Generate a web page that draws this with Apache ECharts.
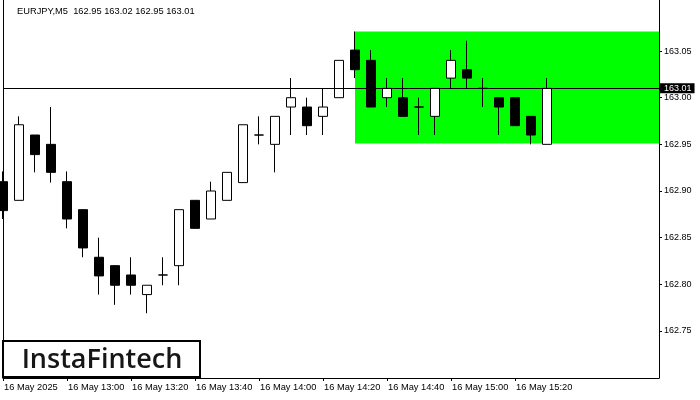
<!DOCTYPE html>
<html>
<head>
<meta charset="utf-8">
<script src="https://cdn.jsdelivr.net/npm/echarts@6/dist/echarts.min.js"></script>
<style>
html,body{margin:0;padding:0;background:#fff;}
#chart{width:700px;height:400px;}
</style>
</head>
<body>
<div id="chart"></div>
<script>
// ---- data ----
const categories = ['12:40','12:45','12:50','12:55','13:00','13:05','13:10','13:15','13:20','13:25',
  '13:30','13:35','13:40','13:45','13:50','13:55','14:00','14:05','14:10','14:15',
  '14:20','14:25','14:30','14:35','14:40','14:45','14:50','14:55','15:00','15:05',
  '15:10','15:15','15:20','15:25','15:30','15:35','15:40','15:45','15:50','15:55','16:00','16:05'];
const opens  = [162.910,162.890,162.960,162.950,162.910,162.880,162.829,162.820,162.810,162.789,
  162.810,162.820,162.890,162.870,162.890,162.909,162.960,162.950,162.990,162.990,
  162.980,163.000,163.051,163.040,163.000,163.000,162.990,162.980,163.021,163.030,
  163.010,163.000,163.000,162.980,162.950];
const closes = [162.879,162.971,162.939,162.920,162.870,162.839,162.809,162.799,162.799,162.799,
  162.810,162.880,162.860,162.900,162.920,162.971,162.960,162.980,163.000,162.970,
  162.990,163.040,163.030,162.990,163.010,162.980,162.990,163.010,163.040,163.021,
  163.010,162.990,162.970,162.960,163.010];
const lows   = [162.870,162.890,162.920,162.909,162.860,162.829,162.789,162.778,162.789,162.769,
  162.799,162.799,162.860,162.870,162.890,162.909,162.950,162.920,162.960,162.960,
  162.960,163.000,163.021,162.990,162.990,162.980,162.960,162.960,163.010,163.010,
  162.990,162.960,162.970,162.950,162.950];
const highs  = [162.921,162.980,162.960,162.990,162.921,162.880,162.850,162.820,162.829,162.799,
  162.829,162.880,162.890,162.910,162.920,162.971,162.980,162.980,163.021,163.000,
  163.010,163.040,163.071,163.051,163.021,163.021,163.000,163.010,163.051,163.061,
  163.021,163.000,163.000,162.980,163.021];
const priceTicks = [162.75,162.80,162.85,162.90,162.95,163.00,163.05];
const firstLabel = '16 May 2025';
const datePrefix = '16 May ';
const titleText = 'EURJPY,M5  162.95 163.02 162.95 163.01';
const currentPrice = 163.01;
const zoneStart = '14:30';
const zoneEnd = '16:05';
const zoneTop = 163.071;
const zoneBottom = 162.951;
const yMin = 162.6996;
const yMax = 163.1047;
const brand = 'InstaFintech';

const candleData = opens.map((o, i) => [o, closes[i], lows[i], highs[i]]);
const labelEvery = (idx) => idx % 4 === 0 && idx <= 32;
const FONT = 'Liberation Sans';

const chart = echarts.init(document.getElementById('chart'), null, {renderer: 'canvas'});
chart.setOption({
  animation: false,
  backgroundColor: '#ffffff',
  title: {
    text: titleText, left: 13, top: 7, padding: [0, 0, 0, 4],
    textStyle: {fontFamily: FONT, fontSize: 9.3, fontWeight: 'normal', color: '#000'}
  },
  grid: {left: 3, right: 41, top: 0, bottom: 22, containLabel: false},
  xAxis: {
    type: 'category', data: categories, boundaryGap: false,
    axisLine: {show: true, lineStyle: {color: '#000', width: 1}},
    axisTick: {show: true, interval: (idx) => labelEvery(idx), length: 3, lineStyle: {color: '#000'}},
    axisLabel: {
      interval: (idx) => labelEvery(idx), align: 'left', margin: 5, padding: [0,0,0,1],
      fontFamily: FONT, fontSize: 9.3, color: '#000',
      formatter: (val, idx) => idx === 0 ? firstLabel : datePrefix + val
    },
    splitLine: {show: false}
  },
  yAxis: [{
    type: 'value', position: 'right', min: yMin, max: yMax, scale: true,
    axisLine: {show: true, lineStyle: {color: '#000', width: 1}},
    axisTick: {show: true, length: 3, customValues: priceTicks, lineStyle: {color: '#000'}},
    axisLabel: {customValues: priceTicks, margin: 5, fontFamily: FONT, fontSize: 9, color: '#000',
      formatter: (v) => v.toFixed(2)},
    splitLine: {show: false}
  }, {
    type: 'value', position: 'left', min: yMin, max: yMax, scale: true,
    axisLine: {show: true, lineStyle: {color: '#000', width: 1}},
    axisTick: {show: false}, axisLabel: {show: false}, splitLine: {show: false}
  }],
  series: [{
    type: 'line', data: [], z: 1, silent: true,
    markArea: {
      silent: true,
      itemStyle: {color: '#00ff00', opacity: 1},
      data: [[{xAxis: zoneStart, yAxis: zoneTop}, {xAxis: zoneEnd, yAxis: zoneBottom}]]
    }
  }, {
    type: 'line', data: [], z: 2, silent: true,
    markLine: {
      silent: true, symbol: ['none','none'],
      lineStyle: {color: '#000', width: 1, type: 'solid'},
      label: {
        show: true, position: 'end', distance: 1,
        formatter: () => currentPrice.toFixed(2),
        backgroundColor: '#000', color: '#fff', padding: [1,3,0,4],
        fontFamily: FONT, fontSize: 9
      },
      data: [{yAxis: currentPrice}]
    }
  }, {
    type: 'candlestick', data: candleData, z: 3, barWidth: 9,
    itemStyle: {color: '#ffffff', color0: '#000000', borderColor: '#000000', borderColor0: '#000000', borderWidth: 1}
  }],
  graphic: [{
    type: 'rect', z: 100, shape: {x: 3, y: 341, width: 197, height: 36},
    style: {fill: '#ffffff', stroke: '#000000', lineWidth: 2}
  }, {
    type: 'text', z: 101, x: 102, y: 360,
    style: {text: brand, fill: '#161616', font: '600 27px "Open Sans"', textAlign: 'center', textVerticalAlign: 'middle'}
  }]
});
</script>
</body>
</html>
